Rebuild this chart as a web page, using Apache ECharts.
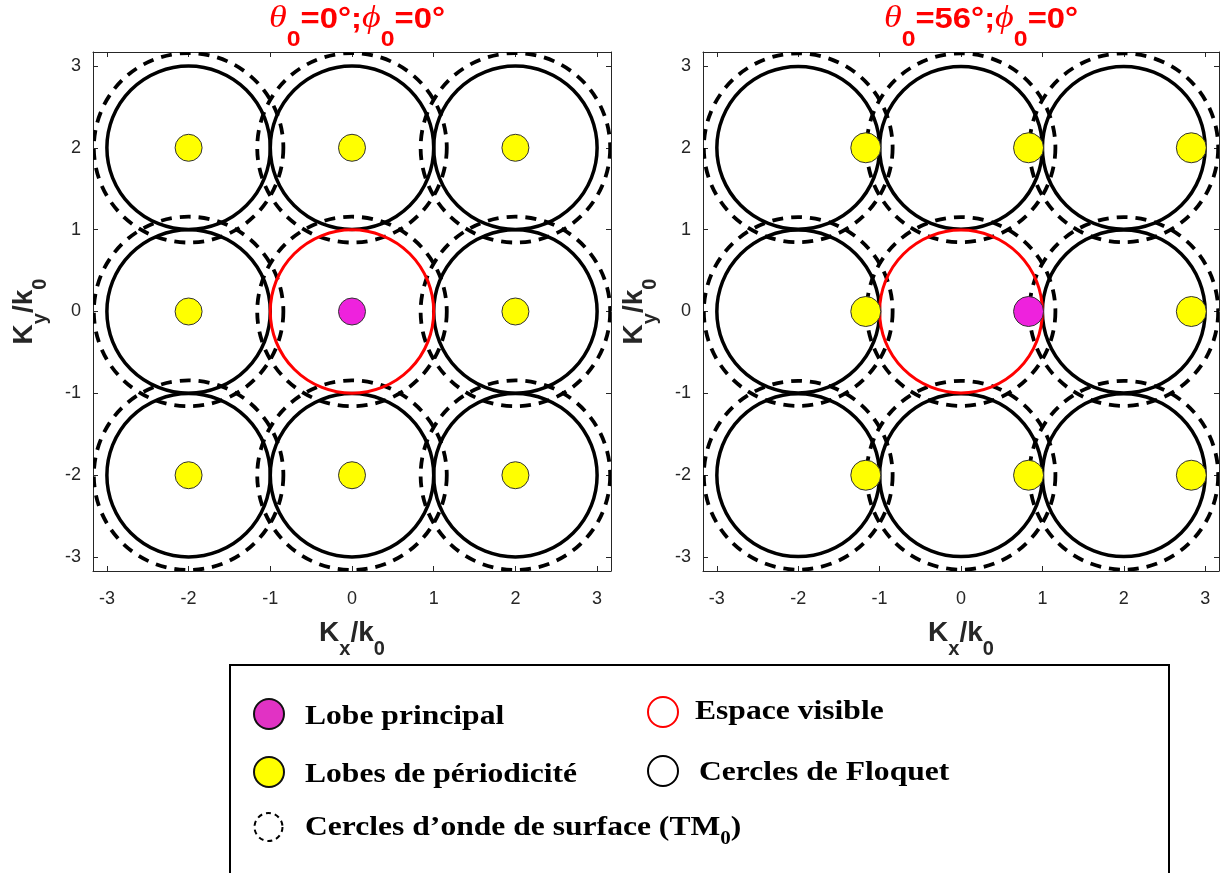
<!DOCTYPE html>
<html><head><meta charset="utf-8">
<script src="https://cdn.jsdelivr.net/npm/echarts@6/dist/echarts.min.js"></script>
<style>html,body{margin:0;padding:0;background:#fff}#c{width:1221px;height:873px}</style>
</head><body><div id="c"></div>
<script>
// ---------- data ----------
const tickValues = [-3, -2, -1, 0, 1, 2, 3];
const tickLabels = ['-3', '-2', '-1', '0', '1', '2', '3'];
const axisMin = -3.17, axisMax = 3.17;
const thetaDeg = [0, 56];
const phiDeg = [0, 0];
const floquetCenters = [[-2,-2],[0,-2],[2,-2],[-2,0],[2,0],[-2,2],[0,2],[2,2]];
const floquetRadius = 1;
const visibleCenters = [[0,0]];
const visibleRadius = 1;
const surfaceCenters = [[-2,-2],[0,-2],[2,-2],[-2,0],[0,0],[2,0],[-2,2],[0,2],[2,2]];
const surfaceRadius = 1.16;
const gratingLobesA = [[-2,-2],[0,-2],[2,-2],[-2,0],[2,0],[-2,2],[0,2],[2,2]];
const mainLobeA = [[0,0]];
const gratingLobesB = [[-1.17,-2],[0.83,-2],[2.83,-2],[-1.17,0],[2.83,0],[-1.17,2],[0.83,2],[2.83,2]];
const mainLobeB = [[0.83,0]];
const legendLabels = ['Lobe principal', 'Espace visible', 'Lobes de périodicité', 'Cercles de Floquet', 'Cercles d’onde de surface (TM', '0', ')'];

// ---------- styles ----------
const AX = '#262626';
const sans = '"Liberation Sans", Arial, sans-serif';
const serif = '"Liberation Serif", "Times New Roman", serif';
const grids = [
  {left: 93, top: 52, width: 518, height: 519},
  {left: 703, top: 52, width: 516, height: 519}
];
const titleCenters = [357, 981];
const nameRich = {
  m: {fontSize: 28, fontWeight: 'bold', fontFamily: sans, color: AX, lineHeight: 28, verticalAlign: 'top'},
  s: {fontSize: 20, fontWeight: 'bold', fontFamily: sans, color: AX, lineHeight: 40, verticalAlign: 'bottom'}
};
function fmt(v) { const i = tickValues.indexOf(Math.round(v)); return i >= 0 ? tickLabels[i] : ''; }
function baseAxis(gi, pos, isX, showLabel) {
  const a = {
    type: 'value', gridIndex: gi, position: pos, min: axisMin, max: axisMax,
    splitLine: {show: false},
    axisLine: {show: true, onZero: false, lineStyle: {color: AX, width: 1}},
    axisTick: {show: true, inside: true, length: 5, customValues: tickValues, lineStyle: {color: AX, width: 1}},
    axisLabel: {show: showLabel, customValues: tickValues, formatter: fmt, fontSize: 18, fontFamily: sans, color: AX,
                margin: isX ? 19 : 12}
  };
  if (showLabel) {
    a.name = isX ? '{m|K}{s|x}{m|/k}{s|0}' : '{m|K}{s|y}{m|/k}{s|0}';
    a.nameLocation = 'middle';
    a.nameGap = isX ? 48 : 43;
    if (!isX) a.nameRotate = 90;
    a.nameTextStyle = {rich: nameRich};
  }
  return a;
}
const xAxes = [baseAxis(0,'bottom',true,true), baseAxis(1,'bottom',true,true), baseAxis(0,'top',true,false), baseAxis(1,'top',true,false)];
const yAxes = [baseAxis(0,'left',false,true), baseAxis(1,'left',false,true), baseAxis(0,'right',false,false), baseAxis(1,'right',false,false)];

function circleSeries(pi, centers, r, style) {
  return {
    type: 'custom', xAxisIndex: pi, yAxisIndex: pi, clip: true, silent: true,
    data: centers.map(p => [p[0], p[1], r]),
    encode: {x: 0, y: 1},
    renderItem: function (params, api) {
      const c = api.coord([api.value(0), api.value(1)]);
      const rr = api.size([api.value(2), 0])[0];
      return {type: 'circle', shape: {cx: c[0], cy: c[1], r: rr}, style: Object.assign({fill: 'none'}, style)};
    }
  };
}
function lobeSeries(pi, pts, color, size) {
  return {
    type: 'scatter', xAxisIndex: pi, yAxisIndex: pi, data: pts, symbol: 'circle', symbolSize: size, silent: true, z: 5,
    itemStyle: {color: color, borderColor: '#333', borderWidth: 1, opacity: 1}
  };
}
const dashStyle = {stroke: '#000', lineWidth: 3.8, lineDash: [11, 8]};
const solidStyle = {stroke: '#000', lineWidth: 3.5};
const redStyle = {stroke: '#FF0000', lineWidth: 3};
const series = [];
const lobes = [[gratingLobesA, mainLobeA, 27], [gratingLobesB, mainLobeB, 30]];
for (let p = 0; p < 2; p++) {
  series.push(circleSeries(p, surfaceCenters, surfaceRadius, dashStyle));
  series.push(circleSeries(p, floquetCenters, floquetRadius, solidStyle));
  series.push(circleSeries(p, visibleCenters, visibleRadius, redStyle));
  series.push(lobeSeries(p, lobes[p][0], '#FFFF00', lobes[p][2]));
  series.push(lobeSeries(p, lobes[p][1], '#EE22DD', lobes[p][2]));
}

// ---------- titles (graphic text, slightly widened like the original) ----------
const titleRich = {
  g: {font: 'italic 32px ' + serif, fill: '#FF0000', lineHeight: 32, verticalAlign: 'top'},
  m: {font: 'bold 29px ' + sans, fill: '#FF0000', lineHeight: 31, verticalAlign: 'top', padding: [2, 0, 0, 0]},
  s: {font: 'bold 22px ' + sans, fill: '#FF0000', lineHeight: 48, verticalAlign: 'bottom'}
};
const titleGraphics = [0, 1].map(i => ({
  type: 'text', x: titleCenters[i], y: 3, scaleX: 1.13, z: 10,
  style: {text: '{g|θ}{s|0}{m|=' + thetaDeg[i] + '°;}{g|ϕ}{s|0}{m|=' + phiDeg[i] + '°}', rich: titleRich, align: 'center', verticalAlign: 'top'}
}));

// ---------- legend (graphic) ----------
const legFontMain = 'bold 27px ' + serif;
function legText(x, cy, rich, text) {
  return {type: 'text', x: x, y: cy - 13.5, scaleX: 1.17, z: 10,
    style: {text: text, rich: rich, align: 'left', verticalAlign: 'top'}};
}
const legRich = {
  n: {font: legFontMain, fill: '#000', lineHeight: 27, verticalAlign: 'top'},
  s: {font: 'bold 18px ' + serif, fill: '#000', lineHeight: 34, verticalAlign: 'bottom'}
};
const graphic = titleGraphics.concat([
  {type: 'rect', z: 1, shape: {x: 230, y: 665, width: 939, height: 260}, style: {fill: '#fff', stroke: '#000', lineWidth: 2}},
  {type: 'circle', z: 10, shape: {cx: 269, cy: 714, r: 15}, style: {fill: '#E132C4', stroke: '#111', lineWidth: 2}},
  {type: 'circle', z: 10, shape: {cx: 663, cy: 712, r: 15}, style: {fill: 'none', stroke: '#FF0000', lineWidth: 2}},
  {type: 'circle', z: 10, shape: {cx: 269, cy: 772, r: 15}, style: {fill: '#FFFF00', stroke: '#111', lineWidth: 2}},
  {type: 'circle', z: 10, shape: {cx: 663, cy: 771, r: 15}, style: {fill: 'none', stroke: '#000', lineWidth: 2}},
  {type: 'circle', z: 10, shape: {cx: 268.5, cy: 827, r: 14}, style: {fill: 'none', stroke: '#000', lineWidth: 2, lineDash: [5, 4]}},
  legText(305, 717, legRich, '{n|' + legendLabels[0] + '}'),
  legText(695, 712, legRich, '{n|' + legendLabels[1] + '}'),
  legText(305, 775, legRich, '{n|' + legendLabels[2] + '}'),
  legText(699, 773, legRich, '{n|' + legendLabels[3] + '}'),
  legText(305, 828, legRich, '{n|' + legendLabels[4] + '}{s|' + legendLabels[5] + '}{n|' + legendLabels[6] + '}')
]);

const chart = echarts.init(document.getElementById('c'), null, {renderer: 'canvas'});
chart.setOption({
  backgroundColor: '#fff',
  animation: false,
  grid: grids,
  xAxis: xAxes,
  yAxis: yAxes,
  series: series,
  graphic: graphic
});
</script></body></html>
